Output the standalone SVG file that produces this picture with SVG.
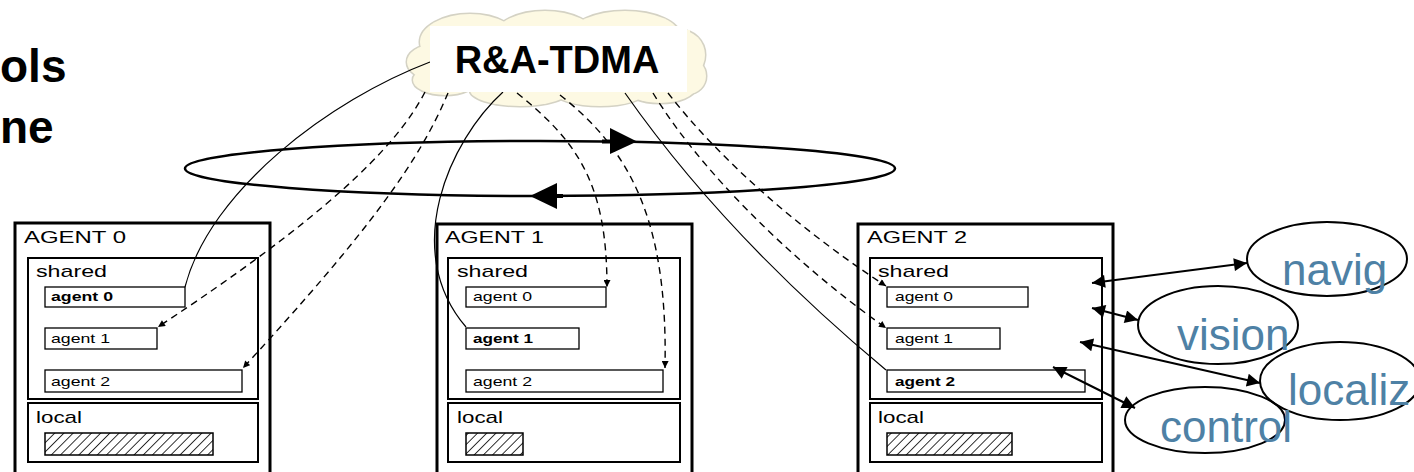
<svg xmlns="http://www.w3.org/2000/svg" width="1414" height="472" viewBox="0 0 1414 472">
<style>
.title{font-family:"Liberation Sans",Arial,sans-serif;font-weight:bold;font-size:46px;fill:#000}
.cloudtxt{font-family:"Liberation Sans",Arial,sans-serif;font-weight:bold;font-size:38px;fill:#000}
.outer{fill:#fff;stroke:#000;stroke-width:3}
.inner{fill:#fff;stroke:#000;stroke-width:2}
.slot{fill:#fff;stroke:#000;stroke-width:1.3}
.hatch{fill:url(#hatch);stroke:#000;stroke-width:1.5}
.agt{font-family:"Liberation Sans",Arial,sans-serif;font-size:17px;fill:#000}
.sec{font-family:"Liberation Sans",Arial,sans-serif;font-size:17px;fill:#000}
.slt{font-family:"Liberation Sans",Arial,sans-serif;font-size:13px;fill:#000}
.slb{font-family:"Liberation Sans",Arial,sans-serif;font-size:13px;font-weight:bold;fill:#000}
.solid{fill:none;stroke:#000;stroke-width:1.2}
.dash{fill:none;stroke:#000;stroke-width:1.4;stroke-dasharray:7 5}
.ring{fill:none;stroke:#000;stroke-width:2.5}
.dbl{fill:none;stroke:#000;stroke-width:2}
.proc{fill:none;stroke:#000;stroke-width:2}
.ptxt{font-family:"Liberation Sans",Arial,sans-serif;font-size:44px;fill:#4e81a5}
.cb{fill:#fdf9e3;stroke:#d4d2c4;stroke-width:3}
.cf{fill:#fdf9e3}
</style>
<defs>
<pattern id="hatch" width="6.5" height="6.5" patternUnits="userSpaceOnUse" patternTransform="rotate(45)">
<rect width="6.5" height="6.5" fill="#fff"/>
<line x1="0" y1="0" x2="0" y2="6.5" stroke="#000" stroke-width="1.6"/>
</pattern>
<marker id="sm" viewBox="0 0 10 10" refX="10" refY="5" markerUnits="userSpaceOnUse" markerWidth="8" markerHeight="7" orient="auto">
<path d="M0,0 L10,5 L0,10 z" fill="#000"/>
</marker>
<marker id="big" viewBox="0 0 10 10" refX="10" refY="5" markerUnits="userSpaceOnUse" markerWidth="16" markerHeight="13" orient="auto-start-reverse">
<path d="M0,0 L10,5 L0,10 z" fill="#000"/>
</marker>
</defs>

<g id="title">
<text class="title" x="0" y="82">ols</text>
<text class="title" x="0" y="143">ne</text>
</g>

<g id="cloud">
<g>
<ellipse class="cb" cx="470" cy="42" rx="50" ry="28"/>
<ellipse class="cb" cx="545" cy="36" rx="50" ry="25"/>
<ellipse class="cb" cx="625" cy="36" rx="55" ry="25"/>
<ellipse class="cb" cx="680" cy="55" rx="25" ry="25"/>
<ellipse class="cb" cx="688" cy="76" rx="18" ry="18"/>
<ellipse class="cb" cx="432" cy="62" rx="25" ry="17"/>
<ellipse class="cb" cx="445" cy="80" rx="32" ry="15"/>
<ellipse class="cb" cx="520" cy="90" rx="50" ry="16"/>
<ellipse class="cb" cx="600" cy="92" rx="45" ry="14"/>
<ellipse class="cb" cx="660" cy="88" rx="35" ry="15"/>
</g>
<g>
<ellipse class="cf" cx="470" cy="42" rx="50" ry="28"/>
<ellipse class="cf" cx="545" cy="36" rx="50" ry="25"/>
<ellipse class="cf" cx="625" cy="36" rx="55" ry="25"/>
<ellipse class="cf" cx="680" cy="55" rx="25" ry="25"/>
<ellipse class="cf" cx="688" cy="76" rx="18" ry="18"/>
<ellipse class="cf" cx="432" cy="62" rx="25" ry="17"/>
<ellipse class="cf" cx="445" cy="80" rx="32" ry="15"/>
<ellipse class="cf" cx="520" cy="90" rx="50" ry="16"/>
<ellipse class="cf" cx="600" cy="92" rx="45" ry="14"/>
<ellipse class="cf" cx="660" cy="88" rx="35" ry="15"/>
<rect class="cf" x="440" y="30" width="250" height="62"/>
</g>
</g>

<g id="agent0">
<rect class="outer" x="15" y="223" width="255" height="270"/>
<text class="agt" x="24" y="243" textLength="102" lengthAdjust="spacingAndGlyphs">AGENT 0</text>
<rect class="inner" x="28" y="258" width="230" height="141"/>
<text class="sec" x="36" y="277" textLength="71" lengthAdjust="spacingAndGlyphs">shared</text>
<rect class="slot" x="45" y="287" width="140" height="20"/>
<text class="slb" x="51" y="301" textLength="62" lengthAdjust="spacingAndGlyphs">agent 0</text>
<rect class="slot" x="45" y="328" width="112" height="21"/>
<text class="slt" x="51" y="343" textLength="59" lengthAdjust="spacingAndGlyphs">agent 1</text>
<rect class="slot" x="45" y="370" width="197" height="22"/>
<text class="slt" x="51" y="386" textLength="59" lengthAdjust="spacingAndGlyphs">agent 2</text>
<rect class="inner" x="28" y="403" width="230" height="59"/>
<text class="sec" x="36" y="423" textLength="46" lengthAdjust="spacingAndGlyphs">local</text>
<rect class="hatch" x="45" y="433" width="168" height="22"/>
</g>

<g id="agent1">
<rect class="outer" x="437" y="224" width="255" height="270"/>
<text class="agt" x="445" y="243" textLength="99" lengthAdjust="spacingAndGlyphs">AGENT 1</text>
<rect class="inner" x="448" y="258" width="232" height="141"/>
<text class="sec" x="457" y="277" textLength="71" lengthAdjust="spacingAndGlyphs">shared</text>
<rect class="slot" x="466" y="287" width="140" height="20"/>
<text class="slt" x="473" y="301" textLength="59" lengthAdjust="spacingAndGlyphs">agent 0</text>
<rect class="slot" x="466" y="328" width="113" height="21"/>
<text class="slb" x="473" y="343" textLength="60" lengthAdjust="spacingAndGlyphs">agent 1</text>
<rect class="slot" x="466" y="370" width="197" height="22"/>
<text class="slt" x="473" y="386" textLength="59" lengthAdjust="spacingAndGlyphs">agent 2</text>
<rect class="inner" x="448" y="403" width="232" height="59"/>
<text class="sec" x="457" y="423" textLength="46" lengthAdjust="spacingAndGlyphs">local</text>
<rect class="hatch" x="466" y="433" width="57" height="22"/>
</g>

<g id="agent2">
<rect class="outer" x="858" y="224" width="255" height="270"/>
<text class="agt" x="867" y="243" textLength="100" lengthAdjust="spacingAndGlyphs">AGENT 2</text>
<rect class="inner" x="870" y="258" width="232" height="141"/>
<text class="sec" x="878" y="277" textLength="71" lengthAdjust="spacingAndGlyphs">shared</text>
<rect class="slot" x="887" y="287" width="141" height="20"/>
<text class="slt" x="895" y="301" textLength="58" lengthAdjust="spacingAndGlyphs">agent 0</text>
<rect class="slot" x="887" y="328" width="113" height="21"/>
<text class="slt" x="895" y="343" textLength="58" lengthAdjust="spacingAndGlyphs">agent 1</text>
<rect class="slot" x="887" y="370" width="198" height="22"/>
<text class="slb" x="895" y="386" textLength="60" lengthAdjust="spacingAndGlyphs">agent 2</text>
<rect class="inner" x="870" y="403" width="232" height="59"/>
<text class="sec" x="878" y="423" textLength="46" lengthAdjust="spacingAndGlyphs">local</text>
<rect class="hatch" x="887" y="433" width="125" height="22"/>
</g>

<g id="navig">
<ellipse class="proc" cx="1327" cy="259" rx="80" ry="37"/>
<text class="ptxt" x="1282" y="285">navig</text>
</g>
<g id="vision">
<ellipse class="proc" cx="1218" cy="325" rx="80" ry="39"/>
<text class="ptxt" x="1177" y="350">vision</text>
</g>
<g id="localiz">
<ellipse class="proc" cx="1340" cy="381" rx="80" ry="39"/>
<text class="ptxt" x="1288" y="405">localiz</text>
</g>
<g id="control">
<ellipse class="proc" cx="1205" cy="420" rx="80" ry="33"/>
<text class="ptxt" x="1160" y="442">control</text>
</g>

<g id="connectors">
<ellipse class="ring" cx="540" cy="168.5" rx="355" ry="27.5"/>
<rect x="602" y="139.5" width="9" height="4" fill="#000"/>
<polygon points="610,128 637,141.5 610,154" fill="#000"/>
<rect x="554" y="194" width="9" height="4" fill="#000"/>
<polygon points="557,183 530,196 557,209" fill="#000"/>

<path class="solid" d="M430 62 C330 100 210 190 185 287"/>
<path class="dash" d="M425 92 C395 150 320 220 158 327" marker-end="url(#sm)"/>
<path class="dash" d="M448 93 C420 160 370 230 243 368" marker-end="url(#sm)"/>

<path class="solid" d="M503 92 C450 140 400 250 466 327"/>
<path class="dash" d="M517 93 C575 140 607 180 607 287" marker-end="url(#sm)"/>
<path class="dash" d="M560 95 C630 150 668 220 665 368" marker-end="url(#sm)"/>

<path class="solid" d="M625 93 C700 200 790 290 886 370"/>
<path class="dash" d="M668 93 C720 160 800 230 886 286" marker-end="url(#sm)"/>
<path class="dash" d="M653 93 C700 170 790 260 886 328" marker-end="url(#sm)"/>

<line class="dbl" x1="1092" y1="283" x2="1247" y2="263" marker-start="url(#big)" marker-end="url(#big)"/>
<line class="dbl" x1="1092" y1="308" x2="1138" y2="320" marker-start="url(#big)" marker-end="url(#big)"/>
<line class="dbl" x1="1080" y1="342" x2="1260" y2="383" marker-start="url(#big)" marker-end="url(#big)"/>
<line class="dbl" x1="1053" y1="367" x2="1135" y2="408" marker-start="url(#big)" marker-end="url(#big)"/>
</g>

<g id="cloud-label">
<rect x="430" y="26" width="257" height="66" fill="#fff"/>
<text class="cloudtxt" x="557" y="73" text-anchor="middle">R&amp;A-TDMA</text>
</g>
</svg>
